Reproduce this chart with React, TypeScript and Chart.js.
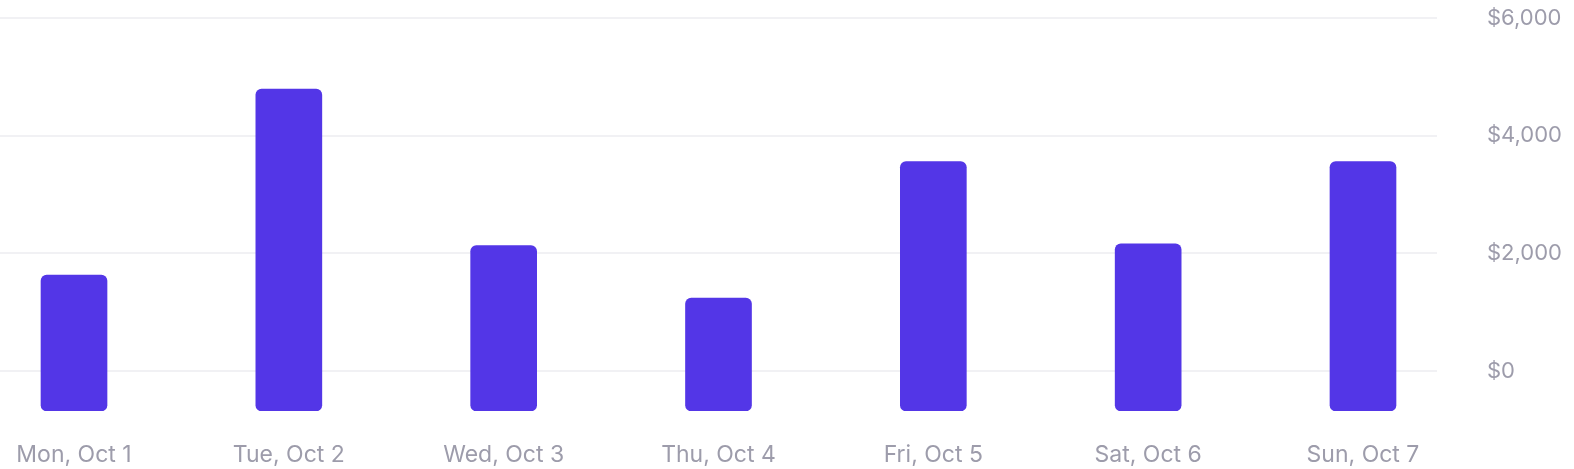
import React, { useEffect, useRef } from "react";
import { Chart, registerables } from "chart.js";

Chart.register(...registerables);

const categories = ["Mon, Oct 1", "Tue, Oct 2", "Wed, Oct 3", "Thu, Oct 4", "Fri, Oct 5", "Sat, Oct 6", "Sun, Oct 7"];
const revenue = [1630, 4790, 2130, 1240, 3560, 2160, 3560];
const yTicks = [0, 2000, 4000, 6000];
const yMin = -680;
const yMax = 6000;

const FONT = "Inter, 'Noto Sans', sans-serif";
const TEXT = "#9d9cab";

export default function App() {
  const ref = useRef<HTMLCanvasElement | null>(null);

  useEffect(() => {
    if (!ref.current) return;
    const chart = new Chart(ref.current, {
      type: "bar",
      data: {
        datasets: [
          {
            data: revenue.map((v, i) => ({ x: i, y: v })),
            backgroundColor: "#5336E7",
            borderRadius: 6,
            borderSkipped: false,
            barThickness: 66,
            base: yMin,
          } as any,
        ],
      },
      options: {
        animation: false,
        responsive: true,
        maintainAspectRatio: false,
        layout: { padding: { top: 18, left: 0, right: 0, bottom: 0 } },
        plugins: { legend: { display: false }, tooltip: { enabled: false } },
        scales: {
          x: {
            type: "linear",
            offset: false,
            min: -0.3445,
            max: 6.3445,
            grid: { display: false, drawTicks: true, tickLength: 30 },
            border: { display: false },
            afterBuildTicks: (axis: any) => {
              axis.ticks = categories.map((_, i) => ({ value: i }));
            },
            afterFit: (axis: any) => {
              axis.height = 58;
            },
            ticks: {
              autoSkip: false,
              maxRotation: 0,
              padding: 0,
              color: TEXT,
              font: { family: FONT, size: 23 },
              callback: (v: any) => categories[v as number] ?? "",
            },
          },
          y: {
            position: "right",
            min: yMin,
            max: yMax,
            grid: { color: "#f1f1f4", lineWidth: 2, drawTicks: true, tickLength: 50, tickColor: "rgba(0,0,0,0)" },
            border: { display: false },
            afterBuildTicks: (axis: any) => {
              axis.ticks = yTicks.map((v) => ({ value: v }));
            },
            afterFit: (axis: any) => {
              axis.width = 137;
            },
            ticks: {
              padding: 0,
              color: TEXT,
              font: { family: FONT, size: 22 },
              callback: (v: any) => "$" + Number(v).toLocaleString("en-US"),
            },
          },
        },
      } as any,
    });
    return () => chart.destroy();
  }, []);

  return (
    <div style={{ position: "absolute", left: 0, top: 0, width: 1574, height: 469, background: "#fff" }}>
      <canvas ref={ref} />
    </div>
  );
}
